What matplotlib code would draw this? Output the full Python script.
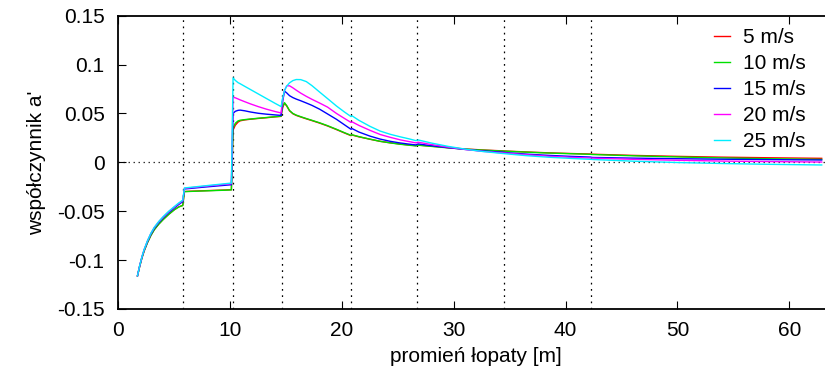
import matplotlib
matplotlib.use("Agg")
import matplotlib.pyplot as plt
from matplotlib.lines import Line2D

plt.rcParams['font.family'] = ['Liberation Sans', 'DejaVu Sans']

# radius along the blade [m]
radius = [
    1.7, 1.9, 2.1, 2.3, 2.6, 2.9, 3.2, 3.6, 4.0, 4.5, 5.0, 5.4, 5.75,
    5.9, 6.5, 7.5, 8.5, 9.5, 10.1,
    10.25, 10.45, 10.7, 10.9, 11.3, 11.8, 12.5, 13.2, 14.0, 14.55,
    14.65, 14.85, 15.05, 15.3, 15.6, 15.9, 16.3, 16.8, 17.3, 18.0, 18.7, 19.5, 20.2, 20.8,
    20.9, 21.5, 22.5, 23.4, 24.3, 25.2, 26.0, 26.6,
    26.8, 28.0, 29.5, 31.0, 32.5, 34.4,
    34.6, 36.5, 38.5, 40.5, 42.2,
    42.4, 46.0, 50.0, 54.0, 58.0, 62.9,
]

# tangential induction factor a' for each wind speed
a_5 = [
    -0.1162, -0.1063, -0.0977, -0.0905, -0.0819, -0.0747, -0.0689, -0.0632, -0.0584, -0.0531, -0.0484, -0.0455, -0.0440,
    -0.0298, -0.0295, -0.0291, -0.0287, -0.0283, -0.0280,
    0.0330, 0.0380, 0.0412, 0.0425, 0.0434, 0.0441, 0.0449, 0.0456, 0.0465, 0.0470,
    0.0550, 0.0605, 0.0576, 0.0527, 0.0497, 0.0480, 0.0464, 0.0445, 0.0427, 0.0401, 0.0372, 0.0335, 0.0301, 0.0273,
    0.0279, 0.0261, 0.0236, 0.0215, 0.0200, 0.0187, 0.0177, 0.0171,
    0.0177, 0.0165, 0.0150, 0.0137, 0.0127, 0.0117,
    0.0116, 0.0106, 0.0097, 0.0090, 0.0085,
    0.0083, 0.0071, 0.0061, 0.0053, 0.0047, 0.0041,
]
a_10 = [
    -0.1162, -0.1064, -0.0978, -0.0906, -0.0820, -0.0748, -0.0690, -0.0633, -0.0585, -0.0532, -0.0485, -0.0456, -0.0442,
    -0.0300, -0.0297, -0.0293, -0.0289, -0.0285, -0.0282,
    0.0350, 0.0400, 0.0424, 0.0431, 0.0437, 0.0443, 0.0451, 0.0458, 0.0467, 0.0472,
    0.0560, 0.0610, 0.0580, 0.0530, 0.0500, 0.0483, 0.0467, 0.0448, 0.0430, 0.0404, 0.0375, 0.0338, 0.0304, 0.0276,
    0.0282, 0.0263, 0.0237, 0.0215, 0.0199, 0.0185, 0.0175, 0.0168,
    0.0175, 0.0163, 0.0148, 0.0135, 0.0125, 0.0115,
    0.0114, 0.0104, 0.0095, 0.0088, 0.0082,
    0.0080, 0.0067, 0.0055, 0.0045, 0.0037, 0.0030,
]
a_15 = [
    -0.1160, -0.1058, -0.0970, -0.0896, -0.0808, -0.0734, -0.0675, -0.0616, -0.0567, -0.0513, -0.0466, -0.0430, -0.0402,
    -0.0272, -0.0266, -0.0255, -0.0245, -0.0235, -0.0229,
    0.0500, 0.0522, 0.0532, 0.0534, 0.0527, 0.0515, 0.0502, 0.0493, 0.0485, 0.0480,
    0.0600, 0.0728, 0.0710, 0.0682, 0.0662, 0.0647, 0.0630, 0.0607, 0.0583, 0.0543, 0.0495, 0.0440, 0.0385, 0.0338,
    0.0345, 0.0310, 0.0268, 0.0238, 0.0215, 0.0198, 0.0186, 0.0178,
    0.0188, 0.0170, 0.0150, 0.0132, 0.0117, 0.0104,
    0.0100, 0.0084, 0.0071, 0.0061, 0.0054,
    0.0050, 0.0043, 0.0037, 0.0032, 0.0028, 0.0024,
]
a_20 = [
    -0.1160, -0.1056, -0.0967, -0.0892, -0.0803, -0.0728, -0.0668, -0.0609, -0.0559, -0.0504, -0.0457, -0.0420, -0.0392,
    -0.0266, -0.0259, -0.0247, -0.0236, -0.0225, -0.0218,
    0.0666, 0.0660, 0.0648, 0.0638, 0.0620, 0.0598, 0.0570, 0.0545, 0.0520, 0.0505,
    0.0620, 0.0735, 0.0782, 0.0783, 0.0762, 0.0738, 0.0708, 0.0675, 0.0645, 0.0606, 0.0565, 0.0500, 0.0450, 0.0408,
    0.0414, 0.0378, 0.0327, 0.0285, 0.0256, 0.0230, 0.0212, 0.0199,
    0.0206, 0.0182, 0.0155, 0.0132, 0.0113, 0.0096,
    0.0095, 0.0077, 0.0062, 0.0051, 0.0044,
    0.0043, 0.0031, 0.0021, 0.0013, 0.0008, 0.0003,
]
a_25 = [
    -0.1160, -0.1055, -0.0965, -0.0890, -0.0800, -0.0725, -0.0665, -0.0605, -0.0555, -0.0500, -0.0452, -0.0415, -0.0387,
    -0.0262, -0.0255, -0.0243, -0.0231, -0.0219, -0.0212,
    0.0864, 0.0838, 0.0815, 0.0803, 0.0777, 0.0745, 0.0700, 0.0655, 0.0604, 0.0570,
    0.0640, 0.0735, 0.0780, 0.0813, 0.0836, 0.0847, 0.0846, 0.0826, 0.0785, 0.0718, 0.0652, 0.0576, 0.0516, 0.0468,
    0.0475, 0.0430, 0.0368, 0.0320, 0.0287, 0.0261, 0.0240, 0.0222,
    0.0229, 0.0197, 0.0163, 0.0135, 0.0112, 0.0090,
    0.0088, 0.0068, 0.0052, 0.0040, 0.0031,
    0.0029, 0.0012, -0.0002, -0.0012, -0.0020, -0.0027,
]

series = [a_5, a_10, a_15, a_20, a_25]
labels = ['5 m/s', '10 m/s', '15 m/s', '20 m/s', '25 m/s']
colors = ['#ff0000', '#00e000', '#0000ff', '#ff00ff', '#00eeff']

# airfoil section boundaries [m]
boundaries = [5.75, 10.2, 14.6, 20.8, 26.7, 34.5, 42.3]

x_ticks = [0, 10, 20, 30, 40, 50, 60]
y_ticks = [-0.15, -0.1, -0.05, 0, 0.05, 0.1, 0.15]
y_tick_labels = ['-0.15', '-0.1', '-0.05', '0', '0.05', '0.1', '0.15']

fig = plt.figure(figsize=(8.25, 3.77), dpi=100)
ax = fig.add_axes([0.1436, 0.1804, 0.8673, 0.778])

for b in boundaries:
    ax.axvline(b, color='black', lw=0.9, ls=(0, (1.4, 3.6)), zorder=1)
ax.axhline(0, color='#333333', lw=0.9, ls=(0, (1.2, 2.8)), zorder=1)

for y, lab, c in zip(series, labels, colors):
    ax.plot(radius, y, color=c, lw=1.0, label=lab, zorder=2)

ax.set_xlim(0, 64)
ax.set_ylim(-0.15, 0.15)
ax.set_xticks(x_ticks)
ax.set_yticks(y_ticks)
ax.set_yticklabels(y_tick_labels)

for s in ax.spines.values():
    s.set_linewidth(1.3)
ax.spines['right'].set_visible(False)

ax.tick_params(direction='in', length=5.5, width=0.8, labelsize=15,
               top=True, right=False)
ax.tick_params(axis='y', pad=10)
ax.tick_params(axis='x', pad=9)

ax.set_xlabel('promień łopaty [m]', fontsize=15, labelpad=5)
ax.set_ylabel("współczynnik a'", fontsize=15, labelpad=8)

handles = [Line2D([], [], color=c, lw=1.0) for c in colors]
ax.legend(handles, labels, loc='upper left', bbox_to_anchor=(0.832, 0.957),
          frameon=False, fontsize=15, handlelength=0.8, handletextpad=0.6,
          labelspacing=0.33, borderpad=0, borderaxespad=0)

fig.savefig('out.png', dpi=100)
